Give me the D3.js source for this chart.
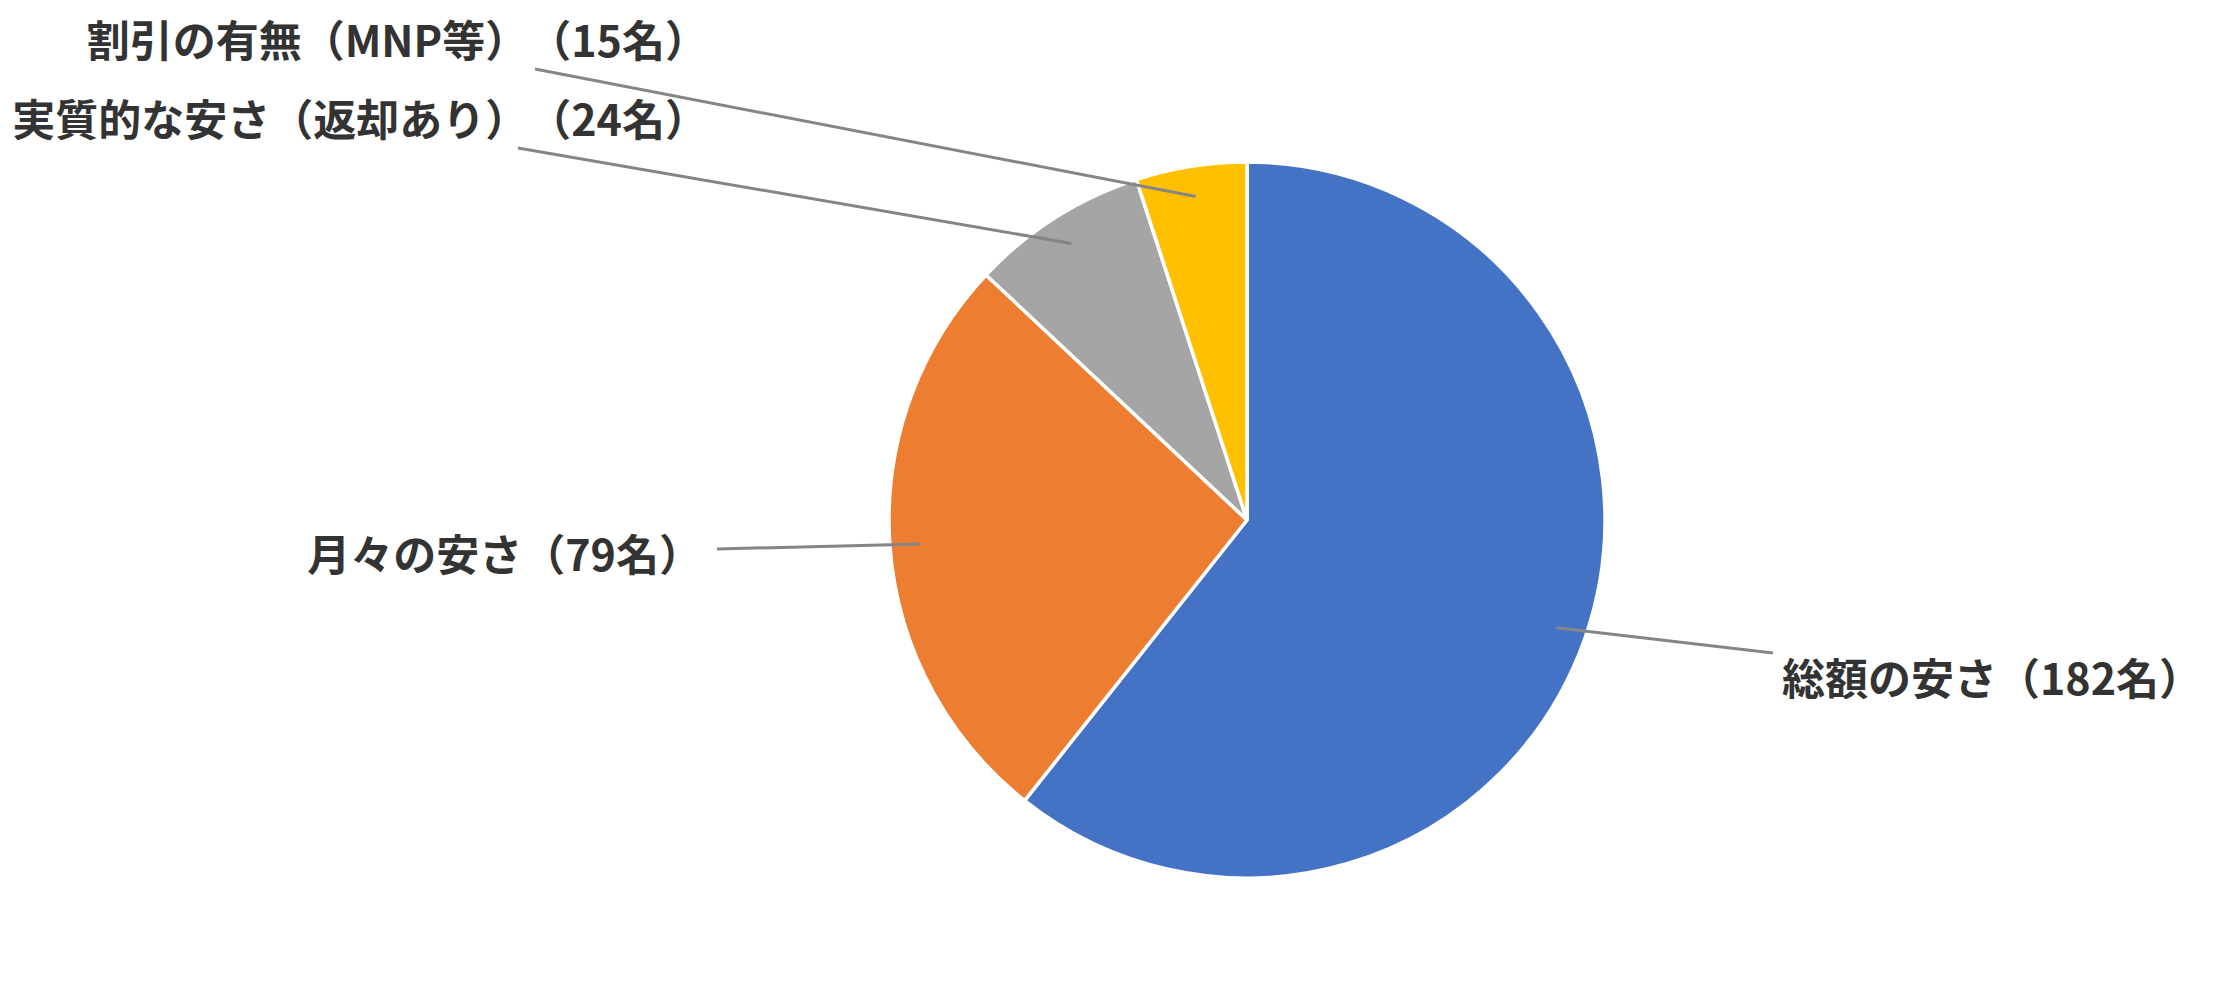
<!DOCTYPE html>
<html>
<head>
<meta charset="utf-8">
<script src="https://cdn.jsdelivr.net/npm/d3@7"></script>
<style>
  html, body { margin: 0; padding: 0; background: #fff; }
  svg text {
    font-family: "Noto Sans CJK JP", "Noto Sans", sans-serif;
    font-weight: bold;
    text-spacing-trim: space-all;
  }
</style>
</head>
<body>
<div id="chart"></div>
<script>
// data
const categories = ["総額の安さ", "月々の安さ", "実質的な安さ（返却あり）", "割引の有無（MNP等）"];
const counts = [182, 79, 24, 15];
const colors = ["#4472C4", "#ED7D31", "#A5A5A5", "#FFC000"];

// label layout: where each label sits and where its leader line ends
const labelPos = [
    {x: 1782, y: 676, anchor: "start", lx: 1773, ly: 653},
    {x: 702, y: 552, anchor: "end", lx: 717, ly: 549},
    {x: 708, y: 117, anchor: "end", lx: 518, ly: 148},
    {x: 708, y: 38, anchor: "end", lx: 535, ly: 69}
];

function main() {
    const width = 2229;
    const height = 989;
    const cx = 1247, cy = 520, radius = 358;

    const svg = d3.select("#chart")
        .append("svg")
        .attr("width", width)
        .attr("height", height);

    const g = svg.append("g")
        .attr("transform", `translate(${cx}, ${cy})`);

    const data = categories.map(function(c, i) {
        return {name: c, value: counts[i], color: colors[i], pos: labelPos[i]};
    });

    const pie = d3.pie()
        .sort(null)
        .value(function(d) { return d.value; });

    const arc = d3.arc()
        .innerRadius(0)
        .outerRadius(radius);

    // point inside each slice where the leader line starts
    const innerArc = d3.arc()
        .innerRadius(radius * 0.915)
        .outerRadius(radius * 0.915);

    const arcs = pie(data);

    g.selectAll(".slice")
        .data(arcs)
        .enter()
        .append("path")
        .attr("class", "slice")
        .attr("d", arc)
        .style("fill", function(d) { return d.data.color; })
        .style("stroke", "#fff")
        .style("stroke-width", 3.5);

    // leader lines
    g.selectAll(".leader")
        .data(arcs)
        .enter()
        .append("line")
        .attr("class", "leader")
        .attr("x1", function(d) { return innerArc.centroid(d)[0]; })
        .attr("y1", function(d) { return innerArc.centroid(d)[1]; })
        .attr("x2", function(d) { return d.data.pos.lx - cx; })
        .attr("y2", function(d) { return d.data.pos.ly - cy; })
        .style("stroke", "#858585")
        .style("stroke-width", 3);

    // labels
    svg.selectAll(".label")
        .data(arcs)
        .enter()
        .append("text")
        .attr("class", "label")
        .attr("x", function(d) { return d.data.pos.x; })
        .attr("y", function(d) { return d.data.pos.y; })
        .attr("text-anchor", function(d) { return d.data.pos.anchor; })
        .attr("dominant-baseline", "central")
        .style("font-size", "43px")
        .style("fill", "#333333")
        .text(function(d) { return d.data.name + "（" + d.data.value + "名）"; });
}

main();
</script>
</body>
</html>
